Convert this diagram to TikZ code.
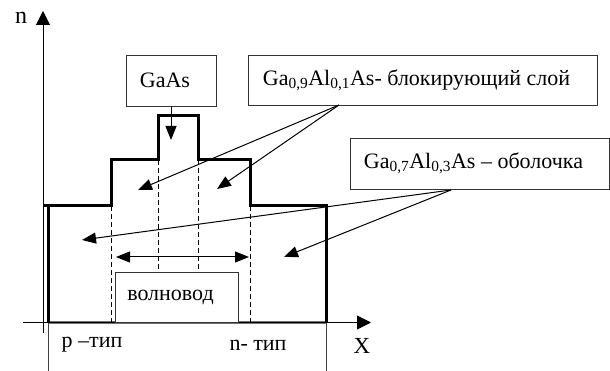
\documentclass[tikz,border=0pt]{standalone}
\usepackage{fontspec}
\setmainfont{Liberation Serif}
\usetikzlibrary{arrows.meta}
\begin{document}
\begin{tikzpicture}[x=1pt,y=-1pt,
  fnt/.style={font=\fontsize{22}{24}\selectfont},
  lbl/.style={fnt,draw=black!80,line width=0.9pt,fill=white,inner sep=0pt,
    execute at end node={\hspace*{12pt}}},
  txt/.style={fnt,inner sep=0pt},
  conn/.style={line width=1pt,-{Triangle[length=14pt,width=11pt]}},
  axisline/.style={line width=1pt,-{Triangle[length=14pt,width=14pt]}},
  prof/.style={line width=3pt},
  dsh/.style={dash pattern=on 5pt off 3pt,line width=0.9pt}
]
\useasboundingbox (0,0) rectangle (610,371);

% gray bottom of profile
\draw[black!55,line width=3pt] (48,322) -- (326,322);
% thin lines below axis
\draw[black!75,line width=1pt] (48,322) -- (48,371);
\draw[black!75,line width=1pt] (326,322) -- (326,371);

% dashed lines
\draw[dsh] (111,206) -- (111,322);
\draw[dsh] (158,160) -- (158,273);
\draw[dsh] (198,160) -- (198,273);
\draw[dsh] (250,206) -- (250,322);

% profile
\draw[prof] (43,206) -- (111,206) -- (111,160) -- (158,160) -- (158,116)
  -- (198,116) -- (198,160) -- (250,160) -- (250,206) -- (326,206) -- (326,322);
\draw[prof] (48,207) -- (48,322);

% axes
\draw[axisline] (43,333) -- (43,11);
\draw[axisline] (23,322.5) -- (371,322.5);

% boxes
\node[lbl,minimum width=90pt,minimum height=51pt] (gaas) at (171,80.5) {GaAs};
\node[lbl,minimum width=349pt,minimum height=50pt] (blk) at (422.5,80)
  {Ga\textsubscript{0,9}Al\textsubscript{0,1}As- блокирующий слой};
\node[lbl,minimum width=259pt,minimum height=51pt] (shell) at (479.5,163.5)
  {Ga\textsubscript{0,7}Al\textsubscript{0,3}As – оболочка};
\node[lbl,minimum width=123pt,minimum height=50pt] (wg) at (176.5,297.5) {волновод};

% labels
\node[txt,font=\fontsize{24}{26}\selectfont] (nlab) at (21,18) {n};
\node[txt,font=\fontsize{23}{25}\selectfont] (xlab) at (362,346) {X};
\node[txt] (ptype) at (92,345) {p –тип};
\node[txt] (ntype) at (258,345) {n- тип};

% connector end points
\coordinate (gaasTip) at (171,140);
\coordinate (blkO) at (339,105);
\coordinate (blkL) at (138,190);
\coordinate (blkR) at (217,189);
\coordinate (shO) at (451,190);
\coordinate (shL) at (82,240);
\coordinate (shR) at (284,257);
\coordinate (wgL) at (116,257);
\coordinate (wgR) at (249,257);

% connectors
\draw[conn] (gaas.south) -- (gaasTip);
\draw[conn] (blkO) -- (blkL);
\draw[conn] (blkO) -- (blkR);
\draw[conn] (shO) -- (shL);
\draw[conn] (shO) -- (shR);
\draw[line width=1pt,{Triangle[length=14pt,width=11pt]}-{Triangle[length=14pt,width=11pt]}] (wgL) -- (wgR);
\end{tikzpicture}
\end{document}
